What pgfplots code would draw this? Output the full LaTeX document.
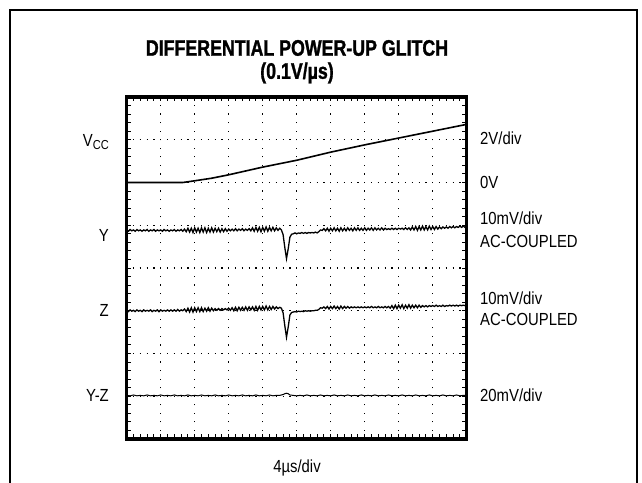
\documentclass[border=0pt]{standalone}
\usepackage{pgfplots}
\pgfplotsset{compat=1.18}
\usepackage{fontspec}
\setmainfont{Liberation Sans}[FakeStretch=0.85]
\newfontfamily\titlefont{Liberation Sans Bold}[FakeStretch=0.79, FakeBold=1.2]
\begin{document}
\begin{tikzpicture}[x=1bp,y=1bp]
\useasboundingbox (0,0) rectangle (642,483);
\tikzset{lab/.style={font=\fontsize{17.5bp}{20bp}\selectfont, inner sep=0pt}}
\draw[line width=1.8bp] (10,0) -- (10,473) -- (637,473) -- (637,0);
\begin{axis}[at={(126.7bp,44bp)}, anchor=south west, scale only axis,
  width=340bp, height=342bp, xmin=0, xmax=10, ymin=0, ymax=8,
  xtick={0,...,10}, ytick={0,...,8}, xticklabels={}, yticklabels={},
  minor x tick num=4, minor y tick num=4, tick align=inside, tick pos=both,
  major tick length=4.5bp, minor tick length=4.5bp,
  tick style={black, line width=0.9bp},
  grid=major,
  major x grid style={black, line width=1.2bp, dash pattern=on 1.2bp off 7.35bp, dash phase=0.6bp},
  major y grid style={black, line width=1.2bp, dash pattern=on 1.2bp off 5.6bp, dash phase=0.6bp},
  axis line style={line width=3.5bp},
  clip mode=individual]
% VCC
\addplot[black, line width=1.6bp] coordinates {(0,6.0)(1.65,6.0)(2,6.04)(2.5,6.1)(3,6.18)(3.5,6.27)(4,6.36)(4.5,6.44)(5,6.52)(6,6.71)(7,6.88)(8,7.04)(9,7.2)(10,7.36)};
% Y
\addplot[black, line width=1.3bp] table {
0.00 4.89
0.05 4.86
0.10 4.90
0.15 4.87
0.20 4.89
0.25 4.86
0.30 4.90
0.35 4.87
0.40 4.89
0.45 4.86
0.50 4.89
0.55 4.87
0.60 4.90
0.65 4.86
0.70 4.89
0.75 4.87
0.80 4.90
0.85 4.86
0.90 4.89
0.95 4.87
1.00 4.89
1.05 4.86
1.10 4.90
1.15 4.87
1.20 4.89
1.25 4.86
1.30 4.89
1.35 4.87
1.40 4.90
1.45 4.86
1.50 4.89
1.55 4.87
1.60 4.90
1.65 4.86
1.70 4.91
1.75 4.85
1.80 4.93
1.85 4.84
1.90 4.93
1.95 4.83
2.00 4.94
2.05 4.84
2.10 4.93
2.15 4.83
2.20 4.94
2.25 4.84
2.30 4.94
2.35 4.83
2.40 4.93
2.45 4.84
2.50 4.94
2.55 4.84
2.60 4.93
2.65 4.85
2.70 4.93
2.75 4.84
2.80 4.92
2.85 4.85
2.90 4.92
2.95 4.86
3.00 4.91
3.05 4.87
3.10 4.91
3.15 4.87
3.20 4.92
3.25 4.87
3.30 4.91
3.35 4.88
3.40 4.92
3.45 4.87
3.50 4.91
3.55 4.88
3.60 4.92
3.65 4.87
3.70 4.94
3.75 4.86
3.80 4.95
3.85 4.86
3.90 4.95
3.95 4.85
4.00 4.95
4.05 4.86
4.10 4.96
4.15 4.86
4.20 4.95
4.25 4.87
4.30 4.95
4.35 4.87
4.40 4.94
4.45 4.88
4.50 4.93
4.55 4.89
4.60 4.78
4.65 4.48
4.70 4.22
4.75 4.45
4.80 4.72
4.85 4.79
4.90 4.80
4.95 4.82
5.00 4.80
5.05 4.82
5.10 4.81
5.15 4.83
5.20 4.81
5.25 4.83
5.30 4.81
5.35 4.83
5.40 4.82
5.45 4.83
5.50 4.82
5.55 4.84
5.60 4.82
5.65 4.85
5.70 4.89
5.75 4.88
5.80 4.92
5.85 4.87
5.90 4.93
5.95 4.86
6.00 4.93
6.05 4.87
6.10 4.94
6.15 4.87
6.20 4.93
6.25 4.86
6.30 4.94
6.35 4.87
6.40 4.93
6.45 4.87
6.50 4.94
6.55 4.88
6.60 4.93
6.65 4.87
6.70 4.94
6.75 4.88
6.80 4.94
6.85 4.88
6.90 4.93
6.95 4.88
7.00 4.94
7.05 4.88
7.10 4.93
7.15 4.89
7.20 4.94
7.25 4.88
7.30 4.94
7.35 4.89
7.40 4.93
7.45 4.89
7.50 4.94
7.55 4.89
7.60 4.93
7.65 4.90
7.70 4.92
7.75 4.90
7.80 4.93
7.85 4.90
7.90 4.93
7.95 4.90
8.00 4.93
8.05 4.91
8.10 4.93
8.15 4.90
8.20 4.94
8.25 4.90
8.30 4.94
8.35 4.89
8.40 4.96
8.45 4.89
8.50 4.97
8.55 4.88
8.60 4.97
8.65 4.89
8.70 4.98
8.75 4.89
8.80 4.97
8.85 4.89
8.90 4.98
8.95 4.90
9.00 4.97
9.05 4.90
9.10 4.97
9.15 4.91
9.20 4.96
9.25 4.92
9.30 4.96
9.35 4.93
9.40 4.96
9.45 4.93
9.50 4.97
9.55 4.94
9.60 4.97
9.65 4.94
9.70 4.97
9.75 4.95
9.80 4.98
9.85 4.95
9.90 4.98
9.95 4.95
10.00 4.97
};
% Z
\addplot[black, line width=1.3bp] table {
0.00 3.01
0.05 2.98
0.10 3.02
0.15 2.99
0.20 3.01
0.25 2.98
0.30 3.02
0.35 2.99
0.40 3.01
0.45 2.98
0.50 3.02
0.55 2.99
0.60 3.01
0.65 2.99
0.70 3.02
0.75 2.98
0.80 3.01
0.85 2.99
0.90 3.02
0.95 2.98
1.00 3.02
1.05 2.99
1.10 3.01
1.15 2.99
1.20 3.02
1.25 2.99
1.30 3.02
1.35 2.99
1.40 3.02
1.45 2.99
1.50 3.03
1.55 2.99
1.60 3.02
1.65 3.00
1.70 3.04
1.75 2.98
1.80 3.06
1.85 2.97
1.90 3.07
1.95 2.97
2.00 3.07
2.05 2.98
2.10 3.07
2.15 2.98
2.20 3.07
2.25 2.98
2.30 3.06
2.35 2.99
2.40 3.07
2.45 2.99
2.50 3.06
2.55 3.00
2.60 3.05
2.65 3.01
2.70 3.05
2.75 3.01
2.80 3.05
2.85 3.02
2.90 3.05
2.95 3.02
3.00 3.06
3.05 3.01
3.10 3.07
3.15 3.00
3.20 3.08
3.25 3.00
3.30 3.08
3.35 3.01
3.40 3.08
3.45 3.01
3.50 3.09
3.55 3.01
3.60 3.09
3.65 3.02
3.70 3.09
3.75 3.01
3.80 3.10
3.85 3.01
3.90 3.10
3.95 3.02
4.00 3.10
4.05 3.02
4.10 3.11
4.15 3.02
4.20 3.10
4.25 3.03
4.30 3.10
4.35 3.04
4.40 3.09
4.45 3.05
4.50 3.08
4.55 3.06
4.60 2.95
4.65 2.65
4.70 2.38
4.75 2.62
4.80 2.90
4.85 2.96
4.90 2.97
4.95 2.98
5.00 2.97
5.05 2.99
5.10 2.98
5.15 2.99
5.20 2.98
5.25 3.00
5.30 2.99
5.35 3.00
5.40 2.99
5.45 3.00
5.50 3.00
5.55 3.01
5.60 3.01
5.65 3.03
5.70 3.07
5.75 3.06
5.80 3.09
5.85 3.05
5.90 3.10
5.95 3.04
6.00 3.10
6.05 3.05
6.10 3.11
6.15 3.05
6.20 3.10
6.25 3.04
6.30 3.11
6.35 3.05
6.40 3.10
6.45 3.06
6.50 3.10
6.55 3.06
6.60 3.09
6.65 3.07
6.70 3.09
6.75 3.07
6.80 3.09
6.85 3.07
6.90 3.09
6.95 3.07
7.00 3.09
7.05 3.07
7.10 3.09
7.15 3.07
7.20 3.10
7.25 3.07
7.30 3.09
7.35 3.07
7.40 3.10
7.45 3.07
7.50 3.09
7.55 3.07
7.60 3.10
7.65 3.07
7.70 3.10
7.75 3.06
7.80 3.12
7.85 3.05
7.90 3.13
7.95 3.05
8.00 3.13
8.05 3.06
8.10 3.14
8.15 3.05
8.20 3.13
8.25 3.06
8.30 3.14
8.35 3.06
8.40 3.13
8.45 3.07
8.50 3.13
8.55 3.07
8.60 3.13
8.65 3.08
8.70 3.12
8.75 3.09
8.80 3.12
8.85 3.09
8.90 3.12
8.95 3.10
9.00 3.12
9.05 3.10
9.10 3.13
9.15 3.10
9.20 3.12
9.25 3.10
9.30 3.13
9.35 3.10
9.40 3.12
9.45 3.11
9.50 3.13
9.55 3.11
9.60 3.13
9.65 3.11
9.70 3.13
9.75 3.11
9.80 3.13
9.85 3.12
9.90 3.13
9.95 3.12
10.00 3.13
};
% Y-Z
\addplot[black, line width=1.0bp] coordinates {(0,1.02)(0.1,1.01)(0.2,1.03)(0.3,1.01)(0.4,1.02)(0.5,1.01)(0.6,1.03)(0.7,1.01)(0.8,1.02)(0.9,1.01)(1.0,1.03)(1.1,1.01)(1.2,1.02)(1.3,1.01)(1.4,1.03)(1.5,1.01)(1.6,1.02)(1.7,1.01)(1.8,1.03)(1.9,1.01)(2.0,1.02)(2.1,1.01)(2.2,1.03)(2.3,1.01)(2.4,1.02)(2.5,1.01)(2.6,1.03)(2.7,1.01)(2.8,1.02)(2.9,1.01)(3.0,1.03)(3.1,1.01)(3.2,1.02)(3.3,1.01)(3.4,1.03)(3.5,1.01)(3.6,1.02)(3.7,1.01)(3.8,1.03)(3.9,1.01)(4.0,1.02)(4.1,1.01)(4.2,1.03)(4.3,1.01)(4.4,1.02)(4.5,1.02)(4.6,1.04)(4.65,1.06)(4.7,1.07)(4.75,1.06)(4.8,1.03)(4.9,1.02)(5.0,1.01)(5.1,1.02)(5.2,1.01)(5.3,1.03)(5.4,1.01)(5.5,1.02)(5.6,1.01)(5.7,1.03)(5.8,1.01)(5.9,1.02)(6.0,1.01)(6.1,1.03)(6.2,1.01)(6.3,1.02)(6.4,1.01)(6.5,1.03)(6.6,1.01)(6.7,1.02)(6.8,1.01)(6.9,1.03)(7.0,1.01)(7.1,1.02)(7.2,1.01)(7.3,1.03)(7.4,1.01)(7.5,1.02)(7.6,1.01)(7.7,1.03)(7.8,1.01)(7.9,1.02)(8.0,1.01)(8.1,1.03)(8.2,1.01)(8.3,1.02)(8.4,1.01)(8.5,1.03)(8.6,1.01)(8.7,1.02)(8.8,1.01)(8.9,1.03)(9.0,1.01)(9.1,1.02)(9.2,1.01)(9.3,1.03)(9.4,1.01)(9.5,1.02)(9.6,1.01)(9.7,1.03)(9.8,1.01)(9.9,1.02)(10,1.02)};
\end{axis}
% title
\node[inner sep=0pt, font={\titlefont\fontsize{22.5bp}{26bp}\selectfont}] at (297,435) {DIFFERENTIAL POWER-UP GLITCH};
\node[inner sep=0pt, font={\titlefont\fontsize{22.5bp}{26bp}\selectfont}] at (297,410) {(0.1V/µs)};
% left labels
\node[lab, anchor=base east] at (109,336.3) {V\raisebox{-0.35ex}{\fontsize{13bp}{14bp}\selectfont CC}};
\node[lab, anchor=base east] at (109,241) {Y};
\node[lab, anchor=base east] at (109,166) {Z};
\node[lab, anchor=base east] at (109,81) {Y-Z};
% right labels
\node[lab, anchor=base west] at (480,338) {2V/div};
\node[lab, anchor=base west] at (480,294) {0V};
\node[lab, anchor=base west] at (480,258) {10mV/div};
\node[lab, anchor=base west] at (480,235.7) {AC-COUPLED};
\node[lab, anchor=base west] at (480,178.7) {10mV/div};
\node[lab, anchor=base west] at (480,157.3) {AC-COUPLED};
\node[lab, anchor=base west] at (480,81.3) {20mV/div};
% bottom
\node[lab, anchor=base] at (297,10.5) {4µs/div};
\end{tikzpicture}
\end{document}
